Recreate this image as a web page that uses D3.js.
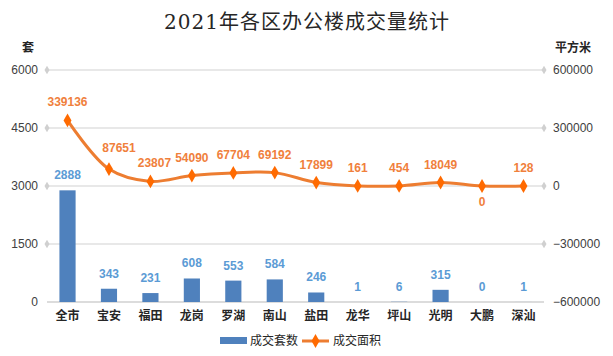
<!DOCTYPE html>
<html><head><meta charset="utf-8">
<script src="https://cdn.jsdelivr.net/npm/d3@7"></script>
<style>body{margin:0;background:#fff;}svg{display:block;font-family:"Noto Sans CJK SC","Microsoft YaHei",sans-serif;}</style>
</head><body>
<svg id="c" width="613" height="356"></svg>
<script>
const categories = ["全市","宝安","福田","龙岗","罗湖","南山","盐田","龙华","坪山","光明","大鹏","深汕"];
const units = [2888,343,231,608,553,584,246,1,6,315,0,1];
const areas = [339136,87651,23807,54090,67704,69192,17899,161,454,18049,0,128];
const leftTicks = [0,1500,3000,4500,6000];
const rightTicks = [-600000,-300000,0,300000,600000];

const svg = d3.select("#c");
const L = 47, R = 544, T = 70, B = 302;
const x = d3.scaleBand().domain(categories).range([L,R]).paddingInner(0.61).paddingOuter(0.3);
const yL = d3.scaleLinear().domain([0,6000]).range([B,T]);
const yR = d3.scaleLinear().domain([-600000,600000]).range([B,T]);

// title
svg.append("text").attr("x",307).attr("y",29).attr("text-anchor","middle")
  .attr("font-size",20).attr("fill","#262626").attr("letter-spacing",1)
  .attr("font-family","'DejaVu Serif','Noto Sans CJK SC',serif").text("2021年各区办公楼成交量统计");
svg.append("text").attr("x",28).attr("y",52).attr("text-anchor","middle").attr("font-size",12).attr("font-weight","bold").attr("fill","#262626").text("套");
svg.append("text").attr("x",573).attr("y",52).attr("text-anchor","middle").attr("font-size",12).attr("font-weight","bold").attr("fill","#262626").text("平方米");

// gridlines
const grid = svg.append("g");
leftTicks.forEach(t=>{
  if(t===0) return;
  grid.append("line").attr("x1",L).attr("x2",R).attr("y1",yL(t)).attr("y2",yL(t)).attr("stroke","#E0E0E0").attr("stroke-width",1.5);
});
const diamond = d3.symbol().type(d3.symbolDiamond).size(22);
const numFont = "'Liberation Sans','Noto Sans CJK SC',sans-serif";
// left axis ticks
const axL = svg.append("g").attr("transform",`translate(${L},0)`).call(d3.axisLeft(yL).tickValues(leftTicks).tickSize(0).tickPadding(9).tickFormat(d3.format("d")));
axL.select(".domain").remove();
axL.selectAll("text").attr("font-size",12).attr("fill","#404040").attr("font-family",numFont);
leftTicks.forEach(t=>{ if(t>0) svg.append("path").attr("d",diamond).attr("transform",`translate(${L},${yL(t)})`).attr("fill","#D0D0D0"); });
const axR = svg.append("g").attr("transform",`translate(${R},0)`).call(d3.axisRight(yR).tickValues(rightTicks).tickSize(0).tickPadding(9).tickFormat(d3.format("d")));
axR.select(".domain").remove();
axR.selectAll("text").attr("font-size",12).attr("fill","#404040").attr("font-family",numFont);
rightTicks.forEach(t=>{ if(t>-600000) svg.append("path").attr("d",diamond).attr("transform",`translate(${R},${yR(t)})`).attr("fill","#D0D0D0"); });

// bottom axis
svg.append("line").attr("x1",L).attr("x2",R).attr("y1",B).attr("y2",B).attr("stroke","#D0D0D0").attr("stroke-width",1.5);
const axB = svg.append("g").attr("transform",`translate(0,${B})`).call(d3.axisBottom(x).tickSize(0).tickPadding(9));
axB.select(".domain").remove();
axB.selectAll("text").attr("font-size",12).attr("font-weight","bold").attr("fill","#262626").attr("font-family","Noto Sans CJK SC, sans-serif");

// bars
svg.append("g").selectAll("rect").data(units).join("rect")
  .attr("x",(d,i)=>x(categories[i])).attr("width",x.bandwidth())
  .attr("y",d=>yL(d)).attr("height",d=>B-yL(d)).attr("fill","#4F81BD");
svg.append("g").selectAll("text").data(units).join("text")
  .attr("x",(d,i)=>x(categories[i])+x.bandwidth()/2).attr("y",d=>yL(d)-11)
  .attr("text-anchor","middle").attr("font-size",12).attr("font-weight","bold").attr("fill","#5B9BD5")
  .attr("font-family",numFont).text(d=>d);

// line
const cx = (i)=>x(categories[i])+x.bandwidth()/2;
const line = d3.line().x((d,i)=>cx(i)).y(d=>yR(d)).curve(d3.curveCatmullRom.alpha(0.5));
svg.append("path").datum(areas).attr("d",line).attr("fill","none").attr("stroke","#ED7D31").attr("stroke-width",3);
const dm = d3.symbol().type(d3.symbolDiamond).size(55);
svg.append("g").selectAll("path").data(areas).join("path")
  .attr("d",dm).attr("transform",(d,i)=>`translate(${cx(i)},${yR(d)})`).attr("fill","#FF6A00");
svg.append("g").selectAll("text").data(areas).join("text")
  .attr("x",(d,i)=>cx(i)+(i===1?10:(i===2?4:0))).attr("y",(d,i)=>d===0? yR(d)+20 : yR(d)-(i===1?17:14))
  .attr("text-anchor","middle").attr("font-size",12).attr("font-weight","bold").attr("fill","#F0803C")
  .attr("font-family",numFont).text(d=>d);

// legend
const lg = svg.append("g");
lg.append("rect").attr("x",220).attr("y",337).attr("width",27).attr("height",7).attr("fill","#4F81BD");
lg.append("text").attr("x",250).attr("y",345).attr("font-size",12).attr("fill","#262626").text("成交套数");
lg.append("line").attr("x1",302).attr("x2",329).attr("y1",341).attr("y2",341).attr("stroke","#ED7D31").attr("stroke-width",3);
lg.append("path").attr("d",dm).attr("transform","translate(315.5,341)").attr("fill","#FF6A00");
lg.append("text").attr("x",333).attr("y",345).attr("font-size",12).attr("fill","#262626").text("成交面积");
</script>
</body></html>
